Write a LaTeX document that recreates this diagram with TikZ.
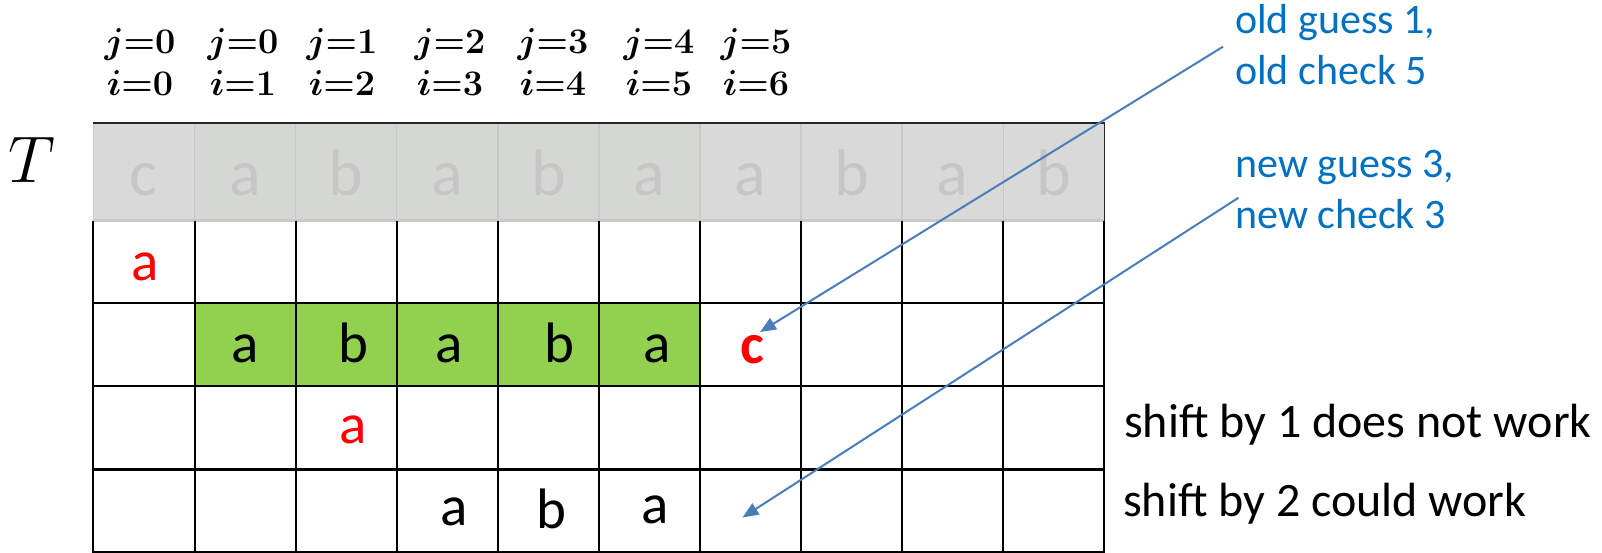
\RequirePackage{fix-cm}
\documentclass[tikz,border=0pt]{standalone}
\usepackage[no-math]{fontspec}
\setmainfont{Carlito}
\usetikzlibrary{arrows.meta}
\definecolor{gridgreen}{HTML}{92D050}
\definecolor{txtblue}{HTML}{0070C0}
\definecolor{arrblue}{HTML}{4A7EBB}
\definecolor{hdrgray}{HTML}{D9D9D9}
\definecolor{hdrtint}{HTML}{D5D8D2}
\definecolor{hdrline}{HTML}{C9C9C9}
\definecolor{hdrtext}{HTML}{C6C6C6}
\definecolor{mred}{HTML}{FF0000}
\begin{document}
\begin{tikzpicture}[x=1pt,y=-1pt,
  cell/.style={anchor=base,inner sep=0pt,font=\fontsize{57}{60}\selectfont},
  hdr/.style={anchor=base,inner sep=0pt,font=\fontsize{66}{70}\selectfont,text=hdrtext},
  idx/.style={anchor=base,inner sep=0pt,font=\fontsize{36}{40}\selectfont\boldmath},
  note/.style={anchor=base west,inner sep=0pt,font=\fontsize{48}{52}\selectfont},
  bluenote/.style={anchor=north west,inner sep=0pt,font=\fontsize{42}{51}\selectfont,text=txtblue,align=left},
  ptr/.style={draw=arrblue,line width=2pt,-{Triangle[length=16pt,width=13pt]}},
  vline/.style={line width=2pt},
  hline/.style={line width=2.8pt}
]
\useasboundingbox (0,0) rectangle (1602,552);

% header row T
\fill[hdrgray] (93.4,123) rectangle (1104.5,220.5);
\fill[hdrtint] (194.5,123) rectangle (700,220.5);
\foreach \k in {0,...,9}
  \draw[hdrline,line width=1.5pt] ({93.4+101.1*\k},123) -- ({93.4+101.1*\k},220.5);
\draw[hdrline,line width=2.5pt] (93.4,220.5) -- (1104.5,220.5);
\draw[black!85,line width=1.5pt] (93.4,123) -- (1104.5,123) -- (1104.5,220.5);
\foreach \ch [count=\k from 0] in {c,a,b,a,b,a,a,b,a,b}
  \node[hdr] (t\k) at ({93.4+101.1*(\k+0.5)},195) {\ch};
\node[anchor=base,inner sep=0pt,font=\fontsize{66}{66}\selectfont] (T) at (32,182) {$T$};

% index labels
\foreach \jj/\ii/\xx [count=\n] in {0/0/140,0/1/243,1/2/342,2/3/450,3/4/553,4/5/659,5/6/756} {
  \node[idx] (j\n) at (\xx,53.5) {$j{=}\jj$};
  \node[idx] (i\n) at (\xx,95) {$i{=}\ii$};
}

% grid
\fill[gridgreen] (194.5,303) rectangle (700,386);
\foreach \k in {0,...,10}
  \draw[vline] ({93.4+101.1*\k},220.5) -- ({93.4+101.1*\k},553);
\foreach \yy in {303,386,469.5,552}
  \draw[hline] (93.4,\yy) -- (1104.5,\yy);

% cell letters
\node[cell,text=mred] (r1a) at (145,280) {a};
\node[cell] (r2a1) at (245,362) {a};
\node[cell] (r2b1) at (353,362) {b};
\node[cell] (r2a2) at (449,362) {a};
\node[cell] (r2b2) at (559,362) {b};
\node[cell] (r2a3) at (657,362) {a};
\node[cell,text=mred,font=\fontsize{57}{60}\selectfont\bfseries] (r2c) at (752,363) {c};
\node[cell,text=mred] (r3a) at (353.6,443) {a};
\node[cell] (r4a1) at (454,525) {a};
\node[cell] (r4b) at (551.5,528) {b};
\node[cell] (r4a2) at (655.6,523) {a};

% notes
\node[note] (shift1) at (1124,437) {shift by 1 does not work};
\node[note] (shift2) at (1123,516) {shift by 2 could work};
\node[bluenote] (oldnote) at (1235,4) {old guess 1,\\old check 5};
\node[bluenote] (newnote) at (1235,150) {new guess 3,\\new check 3};

% arrows
\coordinate (oldfrom) at (1223,46.7);
\coordinate (oldto) at (760,332);
\coordinate (newfrom) at (1238.5,197.7);
\coordinate (newto) at (742.5,517.5);
\draw[ptr] (oldfrom) -- (oldto);
\draw[ptr] (newfrom) -- (newto);
\end{tikzpicture}
\end{document}
